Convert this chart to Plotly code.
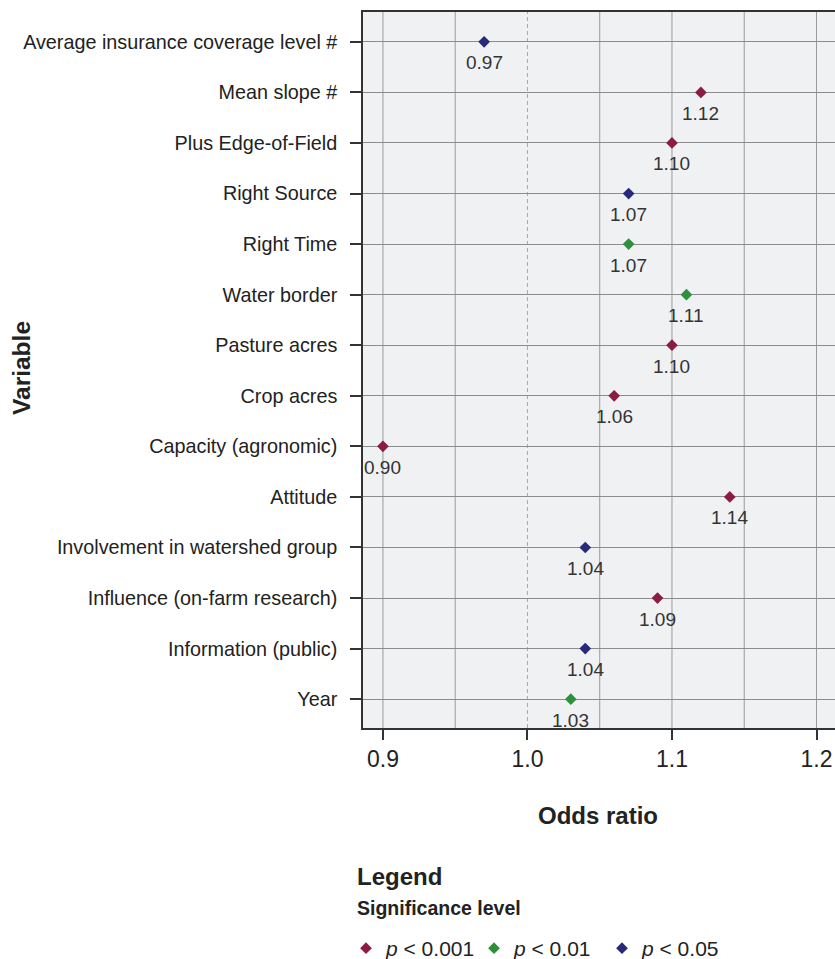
import plotly.graph_objects as go

variables = [
    "Average insurance coverage level #",
    "Mean slope #",
    "Plus Edge-of-Field",
    "Right Source",
    "Right Time",
    "Water border",
    "Pasture acres",
    "Crop acres",
    "Capacity (agronomic)",
    "Attitude",
    "Involvement in watershed group",
    "Influence (on-farm research)",
    "Information (public)",
    "Year",
]
odds_ratios = [0.97, 1.12, 1.10, 1.07, 1.07, 1.11, 1.10, 1.06, 0.90, 1.14, 1.04, 1.09, 1.04, 1.03]
significance = ["p<0.05", "p<0.001", "p<0.001", "p<0.05", "p<0.01", "p<0.01", "p<0.001",
                "p<0.001", "p<0.001", "p<0.001", "p<0.05", "p<0.001", "p<0.05", "p<0.01"]

levels = ["p<0.001", "p<0.01", "p<0.05"]
level_names = ["<i>p</i> &lt; 0.001", "<i>p</i> &lt; 0.01", "<i>p</i> &lt; 0.05"]
level_colors = ["#8b1c42", "#2e8f3d", "#27297a"]

x_ticks = [0.9, 1.0, 1.1, 1.2]
x_grid = [0.9, 0.95, 1.05, 1.1, 1.15, 1.2]
reference_line = 1.0

FONT = "Liberation Sans"

fig = go.Figure()
for lev, name, col in zip(levels, level_names, level_colors):
    xs = [o for o, s in zip(odds_ratios, significance) if s == lev]
    ys = [v for v, s in zip(variables, significance) if s == lev]
    fig.add_trace(go.Scatter(
        x=xs, y=ys, mode="markers", name=name,
        marker=dict(symbol="diamond", size=9, color=col),
        cliponaxis=False,
    ))

annotations = []
for v, o in zip(variables, odds_ratios):
    annotations.append(dict(
        x=o, y=v, xref="x", yref="y", text=f"{o:.2f}", showarrow=False,
        yshift=-21, xanchor="center", yanchor="middle",
        font=dict(family=FONT, size=19, color="#333333"),
    ))

shapes = []
for g in x_grid:
    shapes.append(dict(type="line", xref="x", yref="paper", x0=g, x1=g, y0=0, y1=1,
                       line=dict(color="#9a9a9a", width=1), layer="below"))
shapes.append(dict(type="line", xref="x", yref="paper", x0=reference_line, x1=reference_line,
                   y0=0, y1=1, line=dict(color="#a8a8a8", width=1, dash="4px,3px"), layer="below"))

annotations += [
    dict(text="<b>Odds ratio</b>", xref="paper", yref="paper", x=0.498, y=-0.1229,
         showarrow=False, font=dict(family=FONT, size=24, color="#222222"),
         xanchor="center", yanchor="middle"),
    dict(text="<b>Variable</b>", xref="paper", yref="paper", x=-0.7225, y=0.5028,
         showarrow=False, textangle=-90, font=dict(family=FONT, size=24.5, color="#222222"),
         xanchor="center", yanchor="middle"),
    dict(text="<b>Legend</b>", xref="paper", yref="paper", x=-0.017, y=-0.208,
         showarrow=False, font=dict(family=FONT, size=24, color="#222222"),
         xanchor="left", yanchor="middle"),
    dict(text="<b>Significance level</b>", xref="paper", yref="paper", x=-0.017, y=-0.2514,
         showarrow=False, font=dict(family=FONT, size=19.5, color="#222222"),
         xanchor="left", yanchor="middle"),
]

fig.update_layout(
    width=835, height=959,
    margin=dict(l=363, r=0, t=12, b=231),
    paper_bgcolor="white", plot_bgcolor="#f0f1f3",
    font=dict(family=FONT, color="#222222"),
    showlegend=True,
    legend=dict(orientation="h", xref="container", yref="container",
                x=346 / 835, xanchor="left", y=(959 - 928) / 959, yanchor="top",
                font=dict(family=FONT, size=21, color="#222222"),
                itemwidth=30, traceorder="normal",
                entrywidth=83, entrywidthmode="pixels"),
    shapes=shapes,
    annotations=annotations,
)

fig.update_xaxes(
    range=[0.8862, 1.2128], tickvals=x_ticks, ticktext=[f"{t:.1f}" for t in x_ticks],
    showgrid=False, zeroline=False,
    showline=True, linecolor="#333333", linewidth=1.5, mirror=True,
    ticks="outside", ticklen=10, tickcolor="#333333", tickwidth=1.5,
    ticklabelstandoff=0,
    tickfont=dict(family=FONT, size=23, color="#222222"),
)
fig.update_yaxes(
    type="category", categoryorder="array", categoryarray=variables,
    range=[13.57, -0.59],
    showgrid=True, gridcolor="#8c8c8c", gridwidth=1, zeroline=False,
    showline=True, linecolor="#333333", linewidth=1.5,
    ticks="outside", ticklen=11, tickcolor="#333333", tickwidth=1.5,
    ticklabelstandoff=9,
    tickfont=dict(family=FONT, size=19.8, color="#222222"),
)

fig.write_html("out.html")
